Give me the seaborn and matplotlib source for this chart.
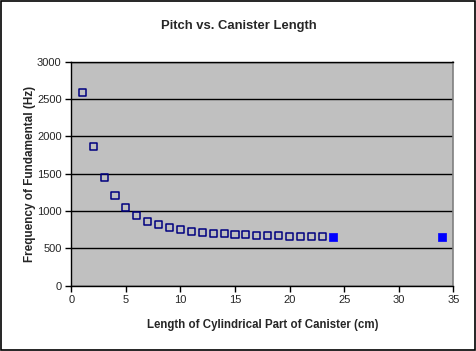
import numpy as np
import pandas as pd
import seaborn as sns
import matplotlib.pyplot as plt

# dane
length_open = [1, 2, 3, 4, 5, 6, 7, 8, 9, 10, 11, 12, 13, 14, 15, 16, 17, 18, 19, 20, 21, 22, 23]
freq_open = [2590, 1866, 1451, 1210, 1049, 942, 862, 821, 781, 754, 728, 714, 700, 700, 687, 687,
             674, 674, 674, 660, 660, 660, 660]
length_filled = [24, 34]
freq_filled = [652, 652]

x_ticks = np.arange(0, 36, 5)
y_ticks = np.arange(0, 3001, 500)

df_open = pd.DataFrame({'length': length_open, 'freq': freq_open})
df_filled = pd.DataFrame({'length': length_filled, 'freq': freq_filled})

sns.set_style('ticks', {'axes.facecolor': '#C0C0C0'})
plt.rcParams['font.family'] = ['Liberation Sans', 'DejaVu Sans']

fig = plt.figure(figsize = (4.77, 3.51), dpi = 100, facecolor = 'white')
ax = fig.add_axes([0.1495, 0.186, 0.8008, 0.638])

sns.scatterplot(data = df_open, x = 'length', y = 'freq', ax = ax, marker = 's', s = 26,
                facecolor = 'none', edgecolor = '#000080', linewidth = 1.1, zorder = 3)
sns.scatterplot(data = df_filled, x = 'length', y = 'freq', ax = ax, marker = 's', s = 30,
                color = '#0000FF', edgecolor = '#0000FF', linewidth = 0.5, zorder = 3)

ax.set_xlim(0, 35)
ax.set_ylim(0, 3000)
ax.set_xticks(x_ticks)
ax.set_yticks(y_ticks)
ax.yaxis.grid(True, color = 'black', linewidth = 1)
ax.set_axisbelow(True)
ax.tick_params(axis = 'both', labelsize = 8, length = 4, width = 1, color = 'black', pad = 3)

for side in ['left', 'bottom']:
    ax.spines[side].set_color('black')
    ax.spines[side].set_linewidth(1)
ax.spines['right'].set_visible(True)
ax.spines['right'].set_color('#808080')
ax.spines['right'].set_linewidth(1.2)
ax.spines['top'].set_visible(True)
ax.spines['top'].set_color('black')
ax.spines['top'].set_linewidth(1)

ax.set_xlabel('Length of Cylindrical Part of Canister (cm)', fontsize = 8.3,
              fontweight = 'bold', labelpad = 10)
ax.set_ylabel('Frequency of Fundamental (Hz)', fontsize = 8.5, fontweight = 'bold',
              labelpad = 1)
fig.suptitle('Pitch vs. Canister Length', fontsize = 9.4, fontweight = 'bold',
             y = 0.927, va = 'center')

# ramka wokol calej grafiki
fig.patches.append(plt.Rectangle((0.002, 0.003), 0.994, 0.994, transform = fig.transFigure,
                                 fill = False, edgecolor = 'black', linewidth = 1.2))

plt.savefig('out.png', dpi = 100, facecolor = 'white')
plt.close(fig)
